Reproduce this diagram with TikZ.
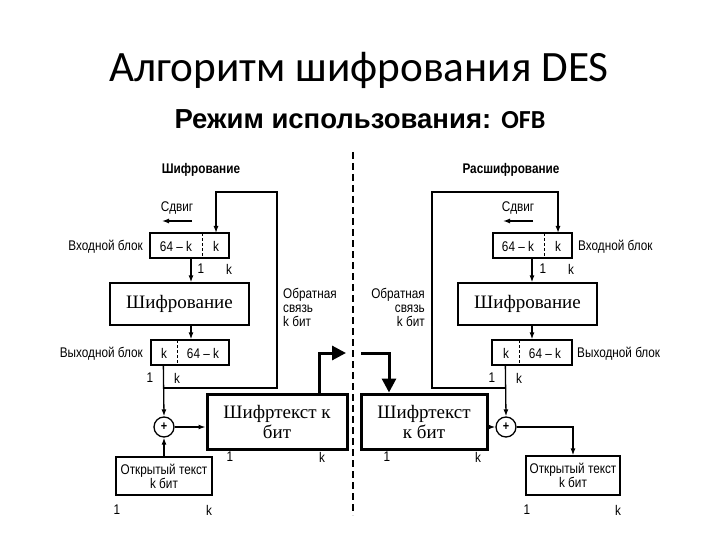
\documentclass[tikz,border=0pt]{standalone}
\usepackage{fontspec}
\setmainfont{Liberation Serif}
\newfontfamily\ttl{Carlito}
\newfontfamily\arl{Liberation Sans}
\newfontfamily\dg[FakeStretch=0.84]{Liberation Sans}
\usetikzlibrary{arrows.meta}
\begin{document}
\begin{tikzpicture}[x=1pt,y=-1pt,
  lbl/.style={font=\dg\fontsize{14}{14}\selectfont, inner sep=0},
  hdr/.style={font=\dg\bfseries\fontsize{14}{15}\selectfont, inner sep=0},
  reg/.style={draw, line width=1.3pt, inner sep=0},
  enc/.style={draw, line width=1.3pt, inner sep=0, font=\fontsize{19}{21}\selectfont},
  ctb/.style={draw, line width=3pt, inner sep=0, font=\fontsize{19}{20}\selectfont, align=center},
  ptb/.style={draw, line width=1.3pt, inner sep=0, align=center, font=\dg\fontsize{14}{14}\selectfont},
  ln/.style={line width=1.3pt},
  arr/.style={ln, -{Latex[length=7pt,width=5pt]}},
  big/.style={line width=3pt, -{Triangle[length=14pt,width=14pt]}},
  xo/.style={draw, circle, line width=1.3pt, minimum size=20, inner sep=0, font=\dg\bfseries\fontsize{13}{13}\selectfont},
  sep/.style={line width=1.8pt, dash pattern=on 7pt off 4pt},
  div/.style={line width=1pt, dash pattern=on 3pt off 2pt},
]
\useasboundingbox (0,0) rectangle (720,540);

% titles
\node[font=\ttl\fontsize{43.3}{50}\selectfont, anchor=base, inner sep=0] (title) at (359,82) {Алгоритм шифрования DES};
\node[anchor=base, inner sep=0] (sub) at (360,129) {\arl\bfseries\fontsize{27.5}{30}\selectfont Режим использования: {\ttl\fontsize{26}{30}\selectfont OFB}};

% separator
\coordinate (sepT) at (353,152);
\coordinate (sepB) at (353,515);
\draw[sep] (sepT) -- (sepB);

%%%%%%%%%% LEFT: encryption
\node[hdr] (hL) at (201,170) {Шифрование};
\node[lbl] (shL) at (177,208) {Сдвиг};
\coordinate (shLa) at (192,221);
\coordinate (shLb) at (162,221);
\draw[arr] (shLa) -- (shLb);

\node[reg, minimum width=79, minimum height=25] (inL) at (189.5,245.5) {};
\draw[div] (202,233) -- (202,258);
\node[lbl] (inL1) at (176,246) {64 – k};
\node[lbl] (inL2) at (216,246) {k};
\node[lbl, anchor=east] (inLl) at (143,247) {Входной блок};
\node[lbl] (inLn1) at (201,269) {1};
\node[lbl] (inLn2) at (229,269) {k};

\node[enc, minimum width=139, minimum height=42] (encL) at (179.5,304) {Шифрование};

\node[reg, minimum width=78, minimum height=25] (outL) at (190,352.5) {};
\draw[div] (177,340) -- (177,365);
\node[lbl] (outL1) at (164,353) {k};
\node[lbl] (outL2) at (203,353) {64 – k};
\node[lbl, anchor=east] (outLl) at (143,354) {Выходной блок};
\node[lbl] (outLn1) at (150,378) {1};
\node[lbl] (outLn2) at (177,378) {k};

\node[lbl, anchor=north west, align=left] (fbL) at (283,288) {Обратная\\связь\\k бит};

\node[xo] (xL) at (164,427) {+};
\node[ptb, minimum width=96, minimum height=38] (plL) at (164,476) {Открытый текст\\k бит};
\node[lbl] (plLn1) at (117,510) {1};
\node[lbl] (plLn2) at (209,510) {k};

\node[ctb, minimum width=140, minimum height=55] (cL) at (277,421.5) {Шифртекст к\\бит};
\node[lbl] (cLn1) at (230,457) {1};
\node[lbl] (cLn2) at (322,457) {k};

\coordinate (jL) at (164,388);
\coordinate (fbLk) at (216,233);
\draw[arr] ([xshift=1.5pt]inL.south) -- ([xshift=11.5pt]encL.north);
\draw[arr] ([xshift=11.5pt]encL.south) -- ([xshift=1pt]outL.north);
\draw[arr] ([xshift=13pt]outL.south west) -- (xL.north);
\draw[arr] (jL) -- (277,388) -- (277,192) -- (216,192) -- (fbLk);
\draw[arr] (plL.north) -- (xL.south);
\draw[arr] (xL.east) -- (xL.east -| cL.west);
\coordinate (tipL) at (346,353);
\draw[big] ([xshift=42pt]cL.north) |- (tipL);

%%%%%%%%%% RIGHT: decryption
\node[hdr] (hR) at (511,170) {Расшифрование};
\node[lbl] (shR) at (518,208) {Сдвиг};
\coordinate (shRa) at (533,221);
\coordinate (shRb) at (503,221);
\draw[arr] (shRa) -- (shRb);

\node[reg, minimum width=79, minimum height=25] (inR) at (532.5,245.5) {};
\draw[div] (544,233) -- (544,258);
\node[lbl] (inR1) at (518,246) {64 – k};
\node[lbl] (inR2) at (558,246) {k};
\node[lbl, anchor=west] (inRl) at (578,247) {Входной блок};
\node[lbl] (inRn1) at (543,269) {1};
\node[lbl] (inRn2) at (571,269) {k};

\node[enc, minimum width=139, minimum height=42] (encR) at (527.5,304) {Шифрование};

\node[reg, minimum width=80, minimum height=25] (outR) at (532,352.5) {};
\draw[div] (519,340) -- (519,365);
\node[lbl] (outR1) at (506,353) {k};
\node[lbl] (outR2) at (545,353) {64 – k};
\node[lbl, anchor=west] (outRl) at (577,354) {Выходной блок};
\node[lbl] (outRn1) at (492,378) {1};
\node[lbl] (outRn2) at (519,378) {k};

\node[lbl, anchor=north east, align=right] (fbR) at (425,288) {Обратная\\связь\\k бит};

\node[ctb, minimum width=126, minimum height=55] (cR) at (424,421.5) {Шифртекст\\к бит};
\node[lbl] (cRn1) at (387,457) {1};
\node[lbl] (cRn2) at (478,457) {k};

\node[xo] (xR) at (506,427) {+};
\node[ptb, minimum width=94, minimum height=39] (plR) at (573,475.5) {Открытый текст\\k бит};
\node[lbl] (plRn1) at (527,510) {1};
\node[lbl] (plRn2) at (618,510) {k};

\coordinate (jR) at (506,388);
\coordinate (fbRk) at (558,233);
\draw[arr] ([xshift=-0.5pt]inR.south) -- ([xshift=4.5pt]encR.north);
\draw[arr] ([xshift=4.5pt]encR.south) -- (outR.north);
\draw[arr] ([xshift=14pt]outR.south west) -- (xR.north);
\draw[arr] (jR) -- (432,388) -- (432,192) -- (558,192) -- (fbRk);
\draw[arr] (cR.east |- xR.west) -- (xR.west);
\draw[arr] (xR.east) -| (plR.north);
\coordinate (stR) at (361,353);
\draw[big] (stR) -| ([xshift=-35pt]cR.north);
\end{tikzpicture}
\end{document}
